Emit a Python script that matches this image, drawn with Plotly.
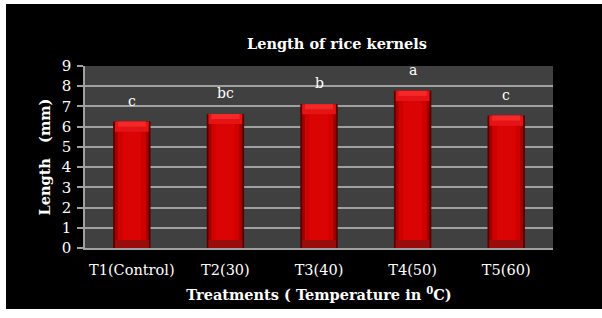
import plotly.graph_objects as go

categories = ["T1(Control)", "T2(30)", "T3(40)", "T4(50)", "T5(60)"]
lengths = [6.25, 6.63, 7.11, 7.77, 6.55]
letters = ["c", "bc", "b", "a", "c"]
y_ticks = [0, 1, 2, 3, 4, 5, 6, 7, 8, 9]

FONT = "DejaVu Serif"
W, H = 602, 318
L, R, T, B = 85, 49, 66, 70
pw, ph = W - L - R, H - T - B

fig = go.Figure()
# layered bars to mimic the bevelled 3D look
for width, color in [(0.40, "#5a0000"), (0.36, "#a00000"), (0.30, "#d00000"), (0.20, "#da0404")]:
    fig.add_trace(go.Bar(x=categories, y=lengths, width=width,
                         marker=dict(color=color, line=dict(width=0)),
                         hoverinfo="skip", showlegend=False))
# top bevel highlight and bottom shade
cap = 0.5
fig.add_trace(go.Bar(x=categories, y=[cap] * len(lengths), base=[v - cap for v in lengths],
                     width=0.36, marker=dict(color="#e41414", line=dict(width=0)),
                     hoverinfo="skip", showlegend=False))
fig.add_trace(go.Bar(x=categories, y=[cap * 0.5] * len(lengths), base=[v - cap * 0.5 for v in lengths],
                     width=0.3, marker=dict(color="#f42828", line=dict(width=0)),
                     hoverinfo="skip", showlegend=False))
fig.add_trace(go.Bar(x=categories, y=[0.4] * len(lengths), base=[0] * len(lengths),
                     width=0.36, marker=dict(color="#9a0c0c", line=dict(width=0)),
                     hoverinfo="skip", showlegend=False))

for cat, val, lab in zip(categories, lengths, letters):
    fig.add_annotation(x=cat, y=val, text=lab, showarrow=False, yshift=21,
                       font=dict(family=FONT, size=14, color="white"))

def px_x(p):
    return (p - L) / pw

def px_y(p):
    return (H - B - p) / ph

fig.add_shape(type="rect", xref="paper", yref="paper", layer="below",
              x0=px_x(6), x1=px_x(604), y0=px_y(309), y1=px_y(4),
              fillcolor="black", line=dict(width=0))
fig.add_shape(type="rect", xref="paper", yref="paper", layer="below",
              x0=0, x1=1, y0=0, y1=1, fillcolor="#404040", line=dict(width=0))

fig.add_annotation(xref="paper", yref="paper", x=px_x(337), y=px_y(33),
                   text="<b>Length of rice kernels</b>", showarrow=False,
                   font=dict(family=FONT, size=14.5, color="white"))

fig.update_layout(
    width=W, height=H, margin=dict(l=L, r=R, t=T, b=B),
    paper_bgcolor="white", plot_bgcolor="#404040",
    barmode="overlay", bargap=0.6,
    xaxis=dict(showgrid=False, showline=True, linecolor="#a0a0a0", linewidth=1.5,
               ticks="", ticklabelstandoff=8,
               tickfont=dict(family=FONT, size=14.5, color="white"),
               title=dict(text="<b>Treatments ( Temperature in <sup>0</sup>C)</b>", standoff=13,
                          font=dict(family=FONT, size=14.5, color="white"))),
    yaxis=dict(range=[0, 9], tickvals=y_ticks, showgrid=True, gridcolor="#a0a0a0", gridwidth=1.5,
               showline=True, linecolor="#a0a0a0", linewidth=1.5, zeroline=False,
               ticks="outside", ticklen=6, tickcolor="#a0a0a0", tickwidth=1.5,
               ticklabelstandoff=3,
               tickfont=dict(family=FONT, size=15, color="white"),
               title=dict(text="<b>Length\u00a0\u00a0\u00a0(mm)</b>", standoff=8,
                          font=dict(family=FONT, size=14.5, color="white"))),
)

fig.write_html("out.html", config={"displayModeBar": False},
               post_script="document.body.style.margin='0';")
